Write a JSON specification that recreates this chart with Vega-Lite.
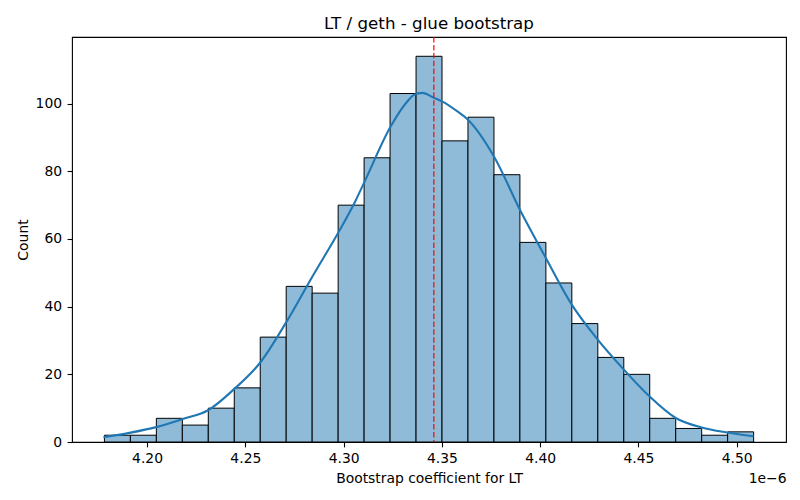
{
  "$schema": "https://vega.github.io/schema/vega-lite/v6.json",
  "autosize": {"type": "none"},
  "padding": {"left": 72, "top": 37, "right": 14, "bottom": 58},
  "width": 714,
  "height": 405,
  "background": "white",
  "config": {
    "font": "DejaVu Sans",
    "view": {"stroke": "black", "strokeWidth": 1.1},
    "axis": {
      "grid": false,
      "domain": false,
      "tickColor": "black",
      "tickWidth": 1.1,
      "tickSize": 4.9,
      "labelColor": "black",
      "labelFont": "DejaVu Sans",
      "labelFontSize": 13.9,
      "titleColor": "black",
      "titleFont": "DejaVu Sans",
      "titleFontSize": 13.9,
      "titleFontWeight": "normal"
    }
  },
  "title": {
    "text": "LT / geth - glue bootstrap",
    "font": "DejaVu Sans",
    "fontSize": 16.7,
    "fontWeight": "normal",
    "color": "black",
    "offset": 4
  },
  "datasets": {
    "bins": [
      {"start": 4.1783, "end": 4.19151, "count": 2},
      {"start": 4.19151, "end": 4.20473, "count": 2},
      {"start": 4.20473, "end": 4.21794, "count": 7},
      {"start": 4.21794, "end": 4.23115, "count": 5},
      {"start": 4.23115, "end": 4.24437, "count": 10},
      {"start": 4.24437, "end": 4.25758, "count": 16},
      {"start": 4.25758, "end": 4.27079, "count": 31},
      {"start": 4.27079, "end": 4.284, "count": 46},
      {"start": 4.284, "end": 4.29722, "count": 44},
      {"start": 4.29722, "end": 4.31043, "count": 70},
      {"start": 4.31043, "end": 4.32364, "count": 84},
      {"start": 4.32364, "end": 4.33686, "count": 103},
      {"start": 4.33686, "end": 4.35007, "count": 114},
      {"start": 4.35007, "end": 4.36328, "count": 89},
      {"start": 4.36328, "end": 4.3765, "count": 96},
      {"start": 4.3765, "end": 4.38971, "count": 79},
      {"start": 4.38971, "end": 4.40292, "count": 59},
      {"start": 4.40292, "end": 4.41613, "count": 47},
      {"start": 4.41613, "end": 4.42935, "count": 35},
      {"start": 4.42935, "end": 4.44256, "count": 25},
      {"start": 4.44256, "end": 4.45577, "count": 20},
      {"start": 4.45577, "end": 4.46899, "count": 7},
      {"start": 4.46899, "end": 4.4822, "count": 4},
      {"start": 4.4822, "end": 4.49541, "count": 2},
      {"start": 4.49541, "end": 4.50863, "count": 3}
    ],
    "kde": [
      {"x": 4.1778, "count": 1.4},
      {"x": 4.191, "count": 2.7},
      {"x": 4.2046, "count": 4.4},
      {"x": 4.2181, "count": 6.8},
      {"x": 4.2308, "count": 9.3},
      {"x": 4.2444, "count": 15.7},
      {"x": 4.2576, "count": 23.5},
      {"x": 4.2706, "count": 35.2},
      {"x": 4.2842, "count": 49.0},
      {"x": 4.2974, "count": 62.0},
      {"x": 4.3059, "count": 71.1},
      {"x": 4.3104, "count": 76.6},
      {"x": 4.324, "count": 93.3},
      {"x": 4.3325, "count": 100.7},
      {"x": 4.3358, "count": 102.6},
      {"x": 4.3401, "count": 103.2},
      {"x": 4.346, "count": 101.7},
      {"x": 4.3503, "count": 100.6},
      {"x": 4.3579, "count": 97.7},
      {"x": 4.363, "count": 95.4},
      {"x": 4.3765, "count": 84.4},
      {"x": 4.3901, "count": 68.2},
      {"x": 4.4029, "count": 54.4},
      {"x": 4.4161, "count": 40.6},
      {"x": 4.4294, "count": 30.2},
      {"x": 4.4426, "count": 21.4},
      {"x": 4.4556, "count": 13.5},
      {"x": 4.469, "count": 7.1},
      {"x": 4.4822, "count": 4.3},
      {"x": 4.4954, "count": 2.8},
      {"x": 4.5086, "count": 1.7}
    ],
    "mean": [{"x": 4.3459}]
  },
  "resolve": {"axis": {"x": "independent"}},
  "layer": [
    {
      "data": {"name": "bins"},
      "mark": {"type": "rect", "fill": "#8fbbd9", "stroke": "black", "strokeWidth": 1},
      "encoding": {
        "x": {
          "field": "start",
          "type": "quantitative",
          "scale": {"domain": [4.1618, 4.5251], "nice": false, "zero": false},
          "axis": {
            "title": "Bootstrap coefficient for LT",
            "values": [4.2, 4.25, 4.3, 4.35, 4.4, 4.45, 4.5],
            "format": ".2f",
            "labelPadding": 4.5,
            "titleBaseline": "alphabetic",
            "titleY": 40
          }
        },
        "x2": {"field": "end"},
        "y": {
          "field": "count",
          "type": "quantitative",
          "scale": {"domain": [0, 119.7], "nice": false},
          "axis": {
            "title": "Count",
            "values": [0, 20, 40, 60, 80, 100],
            "labelPadding": 5.5,
            "titlePadding": 5
          }
        },
        "y2": {"datum": 0}
      }
    },
    {
      "data": {"name": "kde"},
      "mark": {"type": "line", "color": "#1f77b4", "strokeWidth": 2.1, "interpolate": "monotone"},
      "encoding": {
        "x": {"field": "x", "type": "quantitative", "axis": null},
        "y": {"field": "count", "type": "quantitative"}
      }
    },
    {
      "data": {"name": "mean"},
      "mark": {"type": "rule", "color": "red", "opacity": 0.85, "strokeWidth": 1.4, "strokeDash": [5.5, 2.4]},
      "encoding": {
        "x": {
          "field": "x",
          "type": "quantitative",
          "axis": {
            "orient": "bottom",
            "title": "1e−6",
            "labels": false,
            "ticks": false,
            "domain": false,
            "titleAnchor": "end",
            "titleBaseline": "alphabetic",
            "titleY": 40
          }
        }
      }
    }
  ]
}
